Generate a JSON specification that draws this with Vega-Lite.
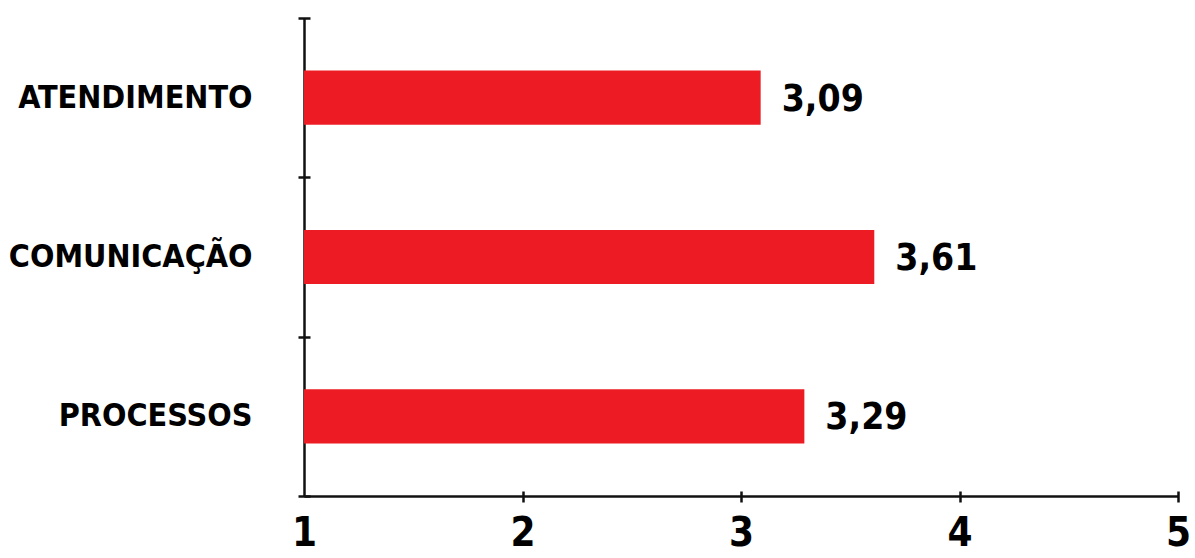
{
  "$schema": "https://vega.github.io/schema/vega-lite/v6.json",
  "autosize": "none",
  "width": 874,
  "height": 478,
  "padding": {"left": 304, "top": 18, "right": 17, "bottom": 62},
  "background": "white",
  "config": {
    "view": {"stroke": null},
    "font": "DejaVu Sans Condensed",
    "locale": {"number": {"decimal": ",", "thousands": ".", "grouping": [3], "currency": ["R$", ""]}}
  },
  "data": {"values": [
    {"categoria": "ATENDIMENTO", "media": 3.09},
    {"categoria": "COMUNICAÇÃO", "media": 3.61},
    {"categoria": "PROCESSOS", "media": 3.29}
  ]},
  "layer": [
    {
      "mark": {"type": "bar", "color": "#ED1C24"},
      "encoding": {
        "y": {
          "field": "categoria", "type": "nominal", "sort": null,
          "scale": {"paddingInner": 0.66, "paddingOuter": 0.33},
          "axis": {
            "orient": "left", "title": null, "ticks": false, "domain": true,
            "domainColor": "#111", "domainWidth": 2.5,
            "labelFont": "DejaVu Sans Condensed", "labelFontWeight": "bold",
            "labelFontSize": 32, "labelColor": "#000", "labelPadding": 52,
            "labelLimit": 400
          }
        },
        "x": {
          "field": "media", "type": "quantitative",
          "scale": {"domain": [1, 5], "zero": false, "nice": false},
          "axis": {
            "orient": "bottom", "title": null, "values": [1, 2, 3, 4, 5],
            "ticks": false, "grid": false, "domain": true,
            "domainColor": "#111", "domainWidth": 2.5,
            "labelFont": "DejaVu Sans Condensed", "labelFontWeight": "bold",
            "labelFontSize": 40, "labelColor": "#000", "labelPadding": 17,
            "labelBaseline": "top", "labelFlush": false, "labelOverlap": false
          }
        },
        "x2": {"datum": 1}
      }
    },
    {
      "mark": {"type": "text", "align": "left", "baseline": "middle", "dx": 21, "dy": 2,
               "font": "DejaVu Sans Condensed", "fontWeight": "bold", "fontSize": 37, "color": "#000"},
      "encoding": {
        "y": {
          "field": "categoria", "type": "nominal", "sort": null,
          "scale": {"paddingInner": 0, "paddingOuter": 0},
          "axis": {
            "orient": "left", "title": null, "labels": false, "domain": false,
            "ticks": true, "tickBand": "extent", "tickSize": 12, "offset": -6,
            "tickColor": "#111", "tickWidth": 2.5
          }
        },
        "x": {
          "field": "media", "type": "quantitative",
          "axis": {
            "orient": "bottom", "title": null, "labels": false, "domain": false,
            "grid": false, "values": [2, 3, 4, 5], "ticks": true, "tickSize": 11,
            "offset": -5, "tickColor": "#111", "tickWidth": 2.5
          }
        },
        "text": {"field": "media", "type": "quantitative", "format": ".2f"}
      }
    }
  ],
  "resolve": {"axis": {"x": "independent", "y": "independent"}, "scale": {"y": "independent"}}
}
